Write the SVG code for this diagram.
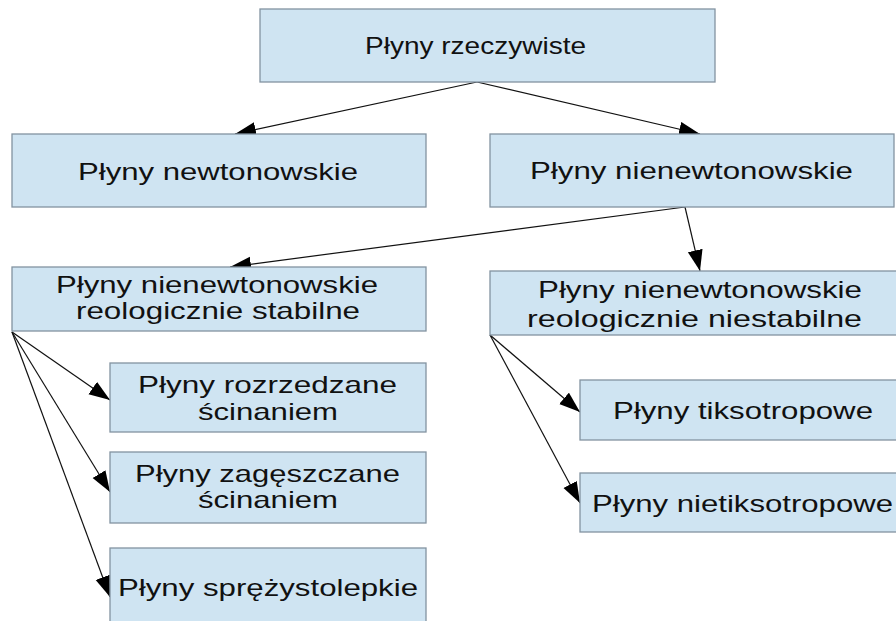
<svg xmlns="http://www.w3.org/2000/svg" width="896" height="621" viewBox="0 0 896 621">
<defs>
<style>
.box{fill:#cfe4f2;stroke:#8393a0;stroke-width:1.3}
.t{font-family:"Liberation Sans",Arial,sans-serif;font-size:24px;fill:#111}
.c{stroke:#111;stroke-width:1.2;fill:none;marker-end:url(#ah)}
</style>
<marker id="ah" markerUnits="userSpaceOnUse" markerWidth="24" markerHeight="16" refX="21" refY="7.5" orient="auto">
<path d="M0,0 L21,7.5 L0,15 z" fill="#000"/>
</marker>
</defs>
<rect width="896" height="621" fill="#fff"/>
<g id="connectors">
<line class="c" x1="477" y1="82" x2="235" y2="134"/>
<line class="c" x1="477" y1="82" x2="700" y2="134"/>
<line class="c" x1="685" y1="207" x2="230" y2="267"/>
<line class="c" x1="685" y1="207" x2="700" y2="271"/>
<line class="c" x1="12" y1="332" x2="110" y2="400"/>
<line class="c" x1="12" y1="332" x2="110" y2="492"/>
<line class="c" x1="12" y1="332" x2="110" y2="597"/>
<line class="c" x1="490" y1="335" x2="580" y2="412"/>
<line class="c" x1="490" y1="335" x2="580" y2="503"/>
</g>
<g id="n-rzeczywiste">
<rect class="box" x="260" y="9" width="455" height="73"/>
<text class="t" x="365" y="54" textLength="221" lengthAdjust="spacingAndGlyphs">Płyny rzeczywiste</text>
</g>
<g id="n-newtonowskie">
<rect class="box" x="12" y="134" width="414" height="73"/>
<text class="t" x="78" y="180" textLength="280" lengthAdjust="spacingAndGlyphs">Płyny newtonowskie</text>
</g>
<g id="n-nienewtonowskie">
<rect class="box" x="490" y="134" width="404" height="73"/>
<text class="t" x="530" y="179" textLength="323" lengthAdjust="spacingAndGlyphs">Płyny nienewtonowskie</text>
</g>
<g id="n-stabilne">
<rect class="box" x="12" y="267" width="414" height="64"/>
<text class="t" x="56" y="293" textLength="322" lengthAdjust="spacingAndGlyphs">Płyny nienewtonowskie</text>
<text class="t" x="76" y="319" textLength="284" lengthAdjust="spacingAndGlyphs">reologicznie stabilne</text>
</g>
<g id="n-niestabilne">
<rect class="box" x="490" y="271" width="408" height="64"/>
<text class="t" x="538" y="298" textLength="324" lengthAdjust="spacingAndGlyphs">Płyny nienewtonowskie</text>
<text class="t" x="527" y="327" textLength="335" lengthAdjust="spacingAndGlyphs">reologicznie niestabilne</text>
</g>
<g id="n-rozrzedzane">
<rect class="box" x="110" y="363" width="316" height="69"/>
<text class="t" x="138" y="393" textLength="259" lengthAdjust="spacingAndGlyphs">Płyny rozrzedzane</text>
<text class="t" x="198" y="420" textLength="140" lengthAdjust="spacingAndGlyphs">ścinaniem</text>
</g>
<g id="n-zageszczane">
<rect class="box" x="110" y="452" width="316" height="71"/>
<text class="t" x="135" y="482" textLength="265" lengthAdjust="spacingAndGlyphs">Płyny zagęszczane</text>
<text class="t" x="198" y="508" textLength="140" lengthAdjust="spacingAndGlyphs">ścinaniem</text>
</g>
<g id="n-sprezystolepkie">
<rect class="box" x="110" y="548" width="316" height="80"/>
<text class="t" x="118" y="596" textLength="300" lengthAdjust="spacingAndGlyphs">Płyny sprężystolepkie</text>
</g>
<g id="n-tiksotropowe">
<rect class="box" x="580" y="380" width="320" height="60"/>
<text class="t" x="613" y="419" textLength="260" lengthAdjust="spacingAndGlyphs">Płyny tiksotropowe</text>
</g>
<g id="n-nietiksotropowe">
<rect class="box" x="580" y="473" width="320" height="59"/>
<text class="t" x="592" y="512" textLength="301" lengthAdjust="spacingAndGlyphs">Płyny nietiksotropowe</text>
</g>
</svg>
